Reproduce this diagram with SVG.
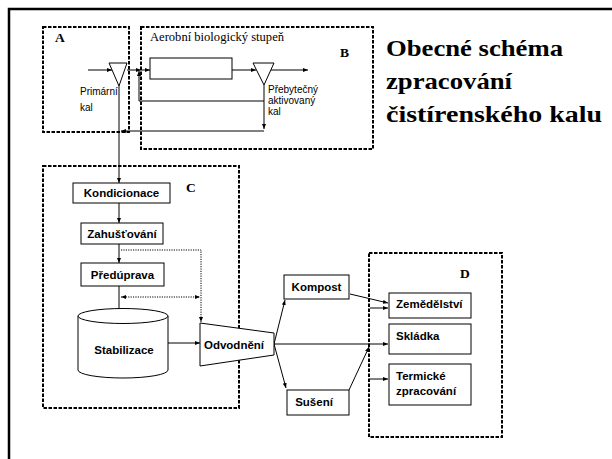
<svg xmlns="http://www.w3.org/2000/svg" width="612" height="459" viewBox="0 0 612 459">
<style>
.frame{fill:none;stroke:#000;stroke-width:2.5}
.dash{fill:none;stroke:#000;stroke-width:2;stroke-dasharray:3.5 1.5}
.box{fill:#fff;stroke:#000;stroke-width:1}
.ln{fill:none;stroke:#000;stroke-width:1}
.dot{fill:none;stroke:#000;stroke-width:1;stroke-dasharray:1.2 1.2}
.lbl{font-family:"Liberation Sans",Arial,sans-serif;font-weight:bold;font-size:11.5px;fill:#000}
.sm{font-family:"Liberation Sans",Arial,sans-serif;font-size:10px;fill:#000}
.let{font-family:"Liberation Serif","Times New Roman",serif;font-weight:bold;font-size:13.5px;fill:#000}
.title{font-family:"Liberation Serif","Times New Roman",serif;font-weight:bold;font-size:24px;fill:#000}
.ser{font-family:"Liberation Serif","Times New Roman",serif;font-size:11.5px;fill:#000}
</style>
<defs>
<marker id="ah" viewBox="0 0 10 10" refX="10" refY="5" markerWidth="5" markerHeight="5" orient="auto-start-reverse"><path d="M0,1 L10,5 L0,9 z" fill="#000"/></marker>
</defs>
<rect width="612" height="459" fill="#fff"/>
<rect class="frame" x="9" y="9" width="700" height="520"/>

<g id="zoneA"><rect class="dash" x="43" y="27" width="86" height="105"/><text class="let" x="55" y="42">A</text></g>
<g id="zoneB"><rect class="dash" x="141" y="27" width="232" height="122"/><text class="ser" x="150" y="41" textLength="134" lengthAdjust="spacingAndGlyphs">Aerobní biologický stupeň</text><text class="let" x="340" y="57">B</text></g>
<g id="zoneC"><rect class="dash" x="43" y="166" width="196" height="242"/><text class="let" x="186" y="192">C</text></g>
<g id="zoneD"><rect class="dash" x="369" y="253" width="133" height="184"/><text class="let" x="460" y="278">D</text></g>

<g id="title">
<text class="title" x="386" y="56" textLength="177" lengthAdjust="spacingAndGlyphs">Obecné schéma</text>
<text class="title" x="386" y="89" textLength="126" lengthAdjust="spacingAndGlyphs">zpracování</text>
<text class="title" x="386" y="122" textLength="216" lengthAdjust="spacingAndGlyphs">čistírenského kalu</text>
</g>

<g id="connectors">
<path class="ln" d="M88,70 L112,70" marker-end="url(#ah)"/>
<path class="ln" d="M127,70 L141,70" marker-end="url(#ah)"/>
<path class="ln" d="M141,70 L150,70" marker-end="url(#ah)"/>
<path class="ln" d="M264,101 L139,101 L139,71" marker-end="url(#ah)"/>
<path class="ln" d="M232,70 L256,70" marker-end="url(#ah)"/>
<path class="ln" d="M271,70 L308,70" marker-end="url(#ah)"/>
<path class="ln" d="M264,85 L264,129" marker-end="url(#ah)"/>
<path class="ln" d="M264,131 L121,131" marker-end="url(#ah)"/>
<path class="ln" d="M119,86 L119,183" marker-end="url(#ah)"/>
<path class="ln" d="M119,203 L119,223" marker-end="url(#ah)"/>
<path class="ln" d="M119,244 L119,263" marker-end="url(#ah)"/>
<path class="dot" d="M121,250 L201,250 L201,322" marker-end="url(#ah)"/>
<path class="ln" d="M119,286 L119,316" marker-end="url(#ah)"/>
<path class="dot" d="M121,297 L200,297" marker-start="url(#ah)" marker-end="url(#ah)"/>
<path class="ln" d="M168,343 L200,343" marker-end="url(#ah)"/>
<path class="ln" d="M274,344 L285,300" marker-end="url(#ah)"/>
<path class="ln" d="M274,344 L388,344" marker-end="url(#ah)"/>
<path class="ln" d="M274,344 L286,388" marker-end="url(#ah)"/>
<path class="ln" d="M350,294 L388,303" marker-end="url(#ah)"/>
<path class="ln" d="M370,308 L388,308" marker-end="url(#ah)"/>
<path class="ln" d="M349,390 L369,347" marker-end="url(#ah)"/>
<path class="ln" d="M370,379 L388,379" marker-end="url(#ah)"/>
</g>

<g id="primary-clarifier"><path class="box" d="M109,63 L127,63 L119,86 z"/><text class="sm" x="80" y="95">Primární</text><text class="sm" x="80" y="111">kal</text></g>
<g id="aeration-tank"><rect class="box" x="150" y="58" width="82" height="21"/></g>
<g id="secondary-clarifier"><path class="box" d="M253,63 L274,63 L264,85 z"/><text class="sm" x="268" y="93">Přebytečný</text><text class="sm" x="268" y="104">aktivovaný</text><text class="sm" x="268" y="115">kal</text></g>

<g id="kondicionace"><rect class="box" x="73" y="183" width="97" height="20"/><text class="lbl" x="121.5" y="197" text-anchor="middle">Kondicionace</text></g>
<g id="zahustovani"><rect class="box" x="81" y="223" width="82" height="21"/><text class="lbl" x="122" y="237.5" text-anchor="middle">Zahušťování</text></g>
<g id="preduprava"><rect class="box" x="81" y="263" width="83" height="23"/><text class="lbl" x="122.5" y="278.5" text-anchor="middle">Předúprava</text></g>
<g id="stabilizace"><path class="box" d="M78,316 L78,370 A45,8 0 0 0 168,370 L168,316"/><ellipse class="box" cx="123" cy="316" rx="45" ry="7.5"/><text class="lbl" x="124" y="354" text-anchor="middle">Stabilizace</text></g>
<g id="odvodneni"><path class="box" d="M200,323 L274,333 L274,355 L200,366 z"/><text class="lbl" x="234" y="349" text-anchor="middle">Odvodnění</text></g>
<g id="kompost"><rect class="box" x="284" y="275" width="65" height="24"/><text class="lbl" x="316.5" y="291" text-anchor="middle">Kompost</text></g>
<g id="suseni"><rect class="box" x="287" y="390" width="62" height="25"/><text class="lbl" x="314" y="406" text-anchor="middle">Sušení</text></g>
<g id="zemedelstvi"><rect class="box" x="389" y="293" width="82" height="25"/><text class="lbl" x="396" y="308">Zemědělství</text></g>
<g id="skladka"><rect class="box" x="389" y="324" width="82" height="30"/><text class="lbl" x="396" y="340">Skládka</text></g>
<g id="termicke"><rect class="box" x="389" y="364" width="82" height="41"/><text class="lbl" x="396" y="380">Termické</text><text class="lbl" x="396" y="395">zpracování</text></g>
</svg>
